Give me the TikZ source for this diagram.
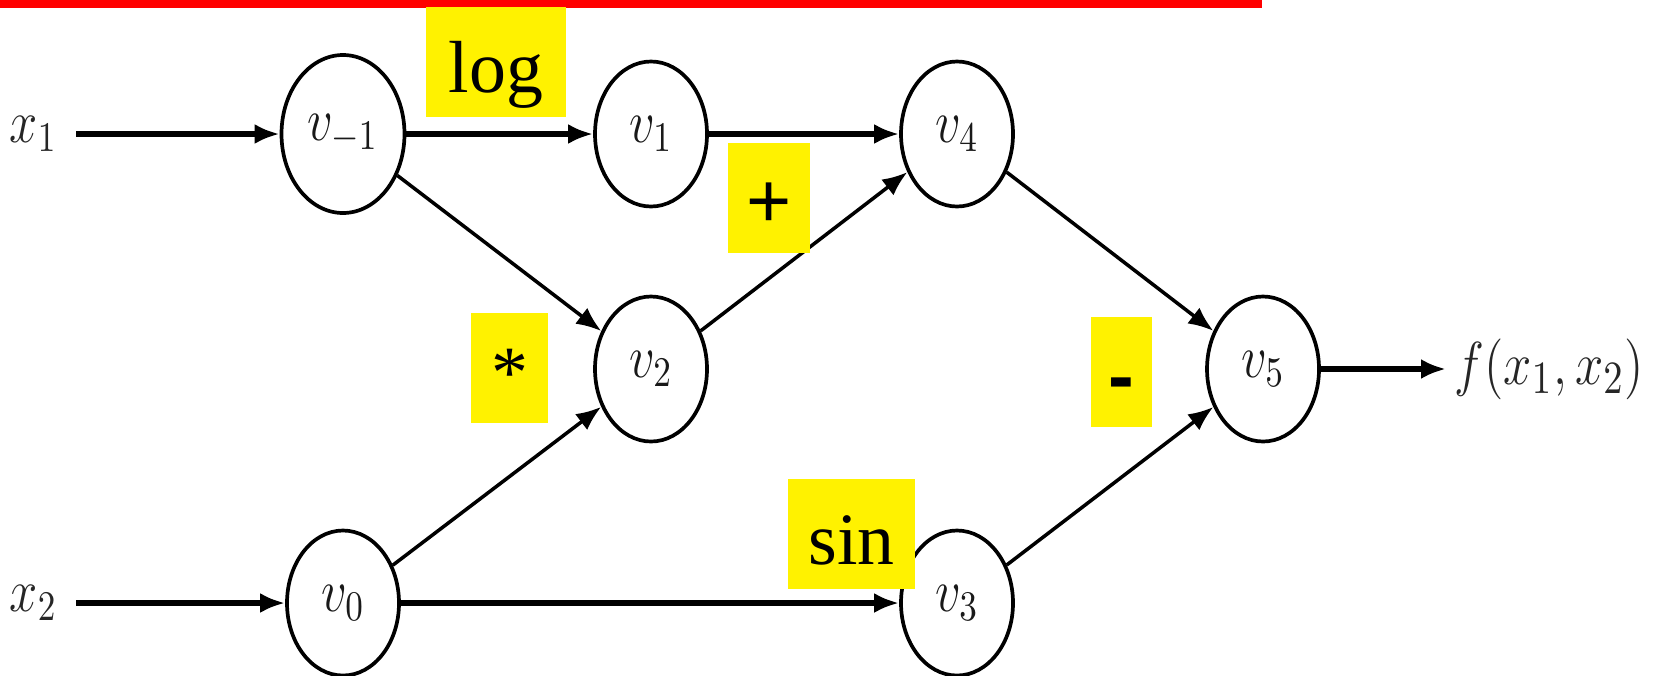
\documentclass[tikz,border=0pt]{standalone}
\usepackage{fontspec}
\usepackage{graphicx}
\usetikzlibrary{shapes.geometric,arrows.meta}

\newfontfamily\opsans{Liberation Sans}
% the node names come out a bit taller than wide
\newcommand{\vstretch}[1]{\scalebox{1}[1.2]{#1}}

\begin{document}
\begin{tikzpicture}[
  var/.style={ellipse, draw, line width=1.05pt, inner sep=0pt,
              minimum width=1.12cm, minimum height=1.45cm,
              text=black!90, font=\fontsize{14.5}{17}\selectfont},
  io/.style={inner xsep=0.18cm, text=black!85,
             font=\fontsize{14.5}{17}\selectfont},
  op/.style={fill=yellow, inner sep=0pt, minimum height=1.1cm,
             text height=0.6cm, text depth=0pt,
             font=\fontspec{Liberation Serif}\fontsize{21}{25}\selectfont},
  flow/.style={-{Latex[length=2.5mm,width=2mm]}, line width=1.6pt},
  link/.style={-{Latex[length=2.5mm,width=2mm]}, line width=1pt}
]
  \useasboundingbox (0,0) rectangle (16.64,-6.75);
  \fill[red] (0,0) rectangle (12.62,-0.08);

  % variables
  \node[var, minimum width=1.23cm, minimum height=1.58cm]
               (vm1) at (3.43,-1.34)  {\vstretch{$v_{-1}$}};
  \node[var]   (v1)  at (6.51,-1.34)  {\vstretch{$v_1$}};
  \node[var]   (v4)  at (9.57,-1.34)  {\vstretch{$v_4$}};
  \node[var]   (v2)  at (6.51,-3.69)  {\vstretch{$v_2$}};
  \node[var]   (v5)  at (12.63,-3.69) {\vstretch{$v_5$}};
  \node[var]   (v0)  at (3.43,-6.03)  {\vstretch{$v_0$}};
  \node[var]   (v3)  at (9.57,-6.03)  {\vstretch{$v_3$}};

  % inputs and output
  \node[io, anchor=east] (x1) at (0.76,-1.34) {\vstretch{$x_1$}};
  \node[io, anchor=east] (x2) at (0.76,-6.03) {\vstretch{$x_2$}};
  \node[io, anchor=west, inner xsep=0.08cm, font=\fontsize{15.8}{19}\selectfont]
       (f) at (14.46,-3.69) {\vstretch{$f(x_1,x_2)$}};

  \draw[flow] (x1)--(vm1); \draw[flow] (vm1)--(v1); \draw[flow] (v1)--(v4);
  \draw[flow] (x2)--(v0);  \draw[flow] (v0)--(v3);  \draw[flow] (v5)--(f);
  \draw[link] (vm1)--(v2); \draw[link] (v0)--(v2);  \draw[link] (v2)--(v4);
  \draw[link] (v4)--(v5);  \draw[link] (v3)--(v5);

  % operations
  \node[op, minimum width=1.40cm] (log) at (4.96,-0.62) {log};
  \node[op, minimum width=0.82cm, font=\fontsize{22}{26}\opsans]
       (plus) at (7.69,-1.975) {+};
  \node[op, minimum width=0.77cm] (mul) at (5.095,-3.675) {*};
  \node[op, minimum width=0.61cm, font=\fontsize{22}{26}\opsans\bfseries]
       (minus) at (11.215,-3.72) {-};
  \node[op, minimum width=1.27cm] (sin) at (8.515,-5.34) {sin};
\end{tikzpicture}
\end{document}
